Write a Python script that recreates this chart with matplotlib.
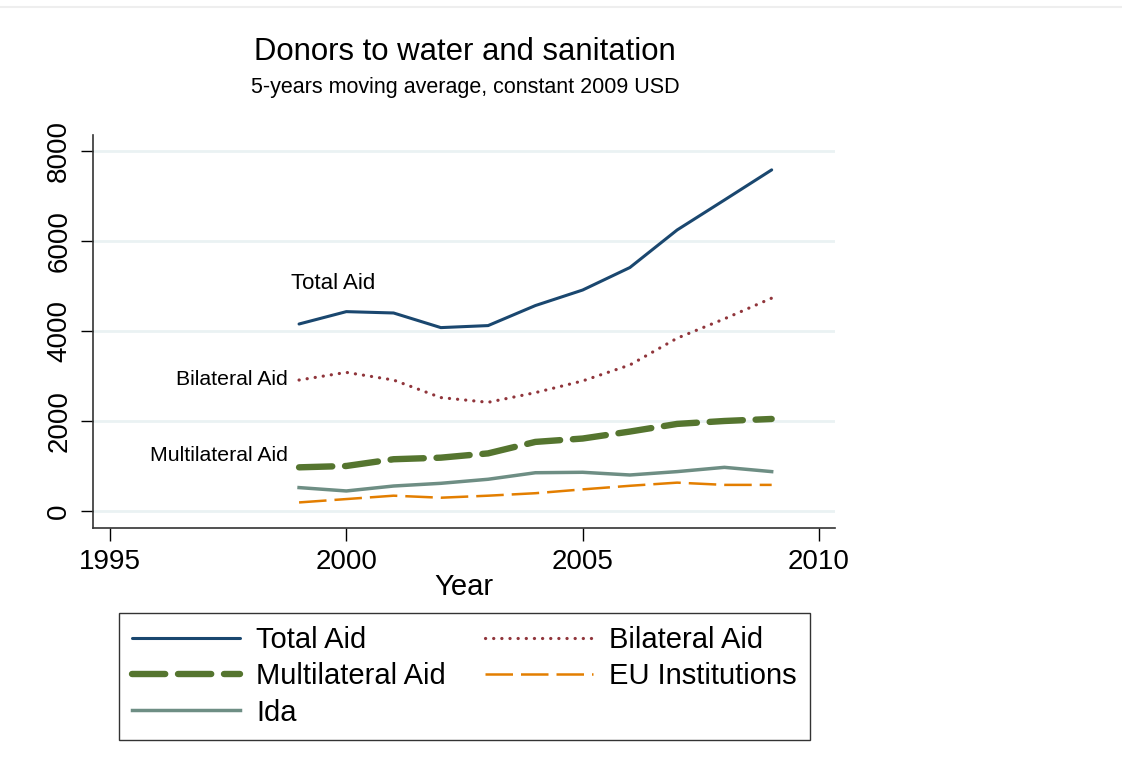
import numpy as np
import matplotlib.pyplot as plt
from matplotlib.lines import Line2D

plt.rcParams['font.family'] = ['Liberation Sans', 'DejaVu Sans']

years = [1999, 2000, 2001, 2002, 2003, 2004, 2005, 2006, 2007, 2008, 2009]
total_aid = [4155, 4430, 4400, 4075, 4120, 4565, 4910, 5410, 6245, 6910, 7580]
bilateral_aid = [2910, 3080, 2910, 2520, 2415, 2630, 2890, 3245, 3840, 4270, 4730]
multilateral_aid = [970, 1000, 1150, 1185, 1280, 1535, 1610, 1765, 1935, 2000, 2045]
ida = [520, 445, 555, 615, 705, 850, 860, 800, 875, 970, 875]
eu_institutions = [190, 265, 340, 295, 340, 395, 480, 560, 630, 580, 580]

x_ticks = [1995, 2000, 2005, 2010]
y_ticks = [0, 2000, 4000, 6000, 8000]

# stata s2color palette
c_total = '#1a476f'
c_bilat = '#90353b'
c_multi = '#55752f'
c_eu = '#e37e00'
c_ida = '#6e8e84'

fig = plt.figure(figsize=(11.22, 7.69), dpi=100)
ax = fig.add_axes([93/1122, 1-528/769, (835-93)/1122, (528-135)/769])

l1, = ax.plot(years, total_aid, color=c_total, lw=2.2, solid_capstyle='round')
l2, = ax.plot(years, bilateral_aid, color=c_bilat, lw=2.3, linestyle=(0, (0.05, 2.5)),
              dash_capstyle='round')
l3, = ax.plot(years, multilateral_aid, color=c_multi, lw=4.6, linestyle=(0, (5.2, 2.0)),
              dash_capstyle='round')
l4, = ax.plot(years, eu_institutions, color=c_eu, lw=1.8, linestyle=(0, (11, 3.2)))
l5, = ax.plot(years, ida, color=c_ida, lw=2.5)

ax.set_xlim(1994.64, 2010.34)
ax.set_ylim(-378, 8355)
ax.set_xticks(x_ticks)
ax.set_yticks(y_ticks)
ax.set_yticklabels([str(v) for v in y_ticks], rotation=90, va='center')
ax.tick_params(axis='both', labelsize=20, length=9, width=1, colors='black', pad=6)
ax.grid(axis='y', color='#eaf2f3', lw=2)
ax.set_axisbelow(True)
for s in ['top', 'right']:
    ax.spines[s].set_visible(False)
for s in ['left', 'bottom']:
    ax.spines[s].set_color('#333333')
    ax.spines[s].set_linewidth(1.2)
ax.set_xlabel('Year', fontsize=21, labelpad=-1)

# line labels
ax.text(1998.82, 5050, 'Total Aid', fontsize=16, ha='left', va='center')
ax.text(1998.77, 2930, 'Bilateral Aid', fontsize=15.3, ha='right', va='center')
ax.text(1998.77, 1230, 'Multilateral Aid', fontsize=15.3, ha='right', va='center')

fig.text(465/1122, 1-52/769, 'Donors to water and sanitation', fontsize=22.4,
         ha='center', va='center')
fig.text(465/1122, 1-88/769, '5-years moving average, constant 2009 USD', fontsize=15.5,
         ha='center', va='center')

leg = fig.legend([l1, l3, l5, l2, l4],
                 ['Total Aid', 'Multilateral Aid', 'Ida', 'Bilateral Aid', 'EU Institutions'],
                 ncol=2, loc='center', bbox_to_anchor=(464.5/1122, 1-676.5/769),
                 fontsize=21, handlelength=3.7, columnspacing=1.35, labelspacing=0.28,
                 frameon=True, fancybox=False, borderpad=0.45, borderaxespad=0,
                 handletextpad=0.55)
leg.get_frame().set_edgecolor('black')
leg.get_frame().set_linewidth(1.0)

# faint outer border at top
fig.add_artist(Line2D([0, 1], [1-7/769, 1-7/769], color='#eeeeee', lw=1.5))

fig.savefig('out.png', dpi=100, facecolor='white')
